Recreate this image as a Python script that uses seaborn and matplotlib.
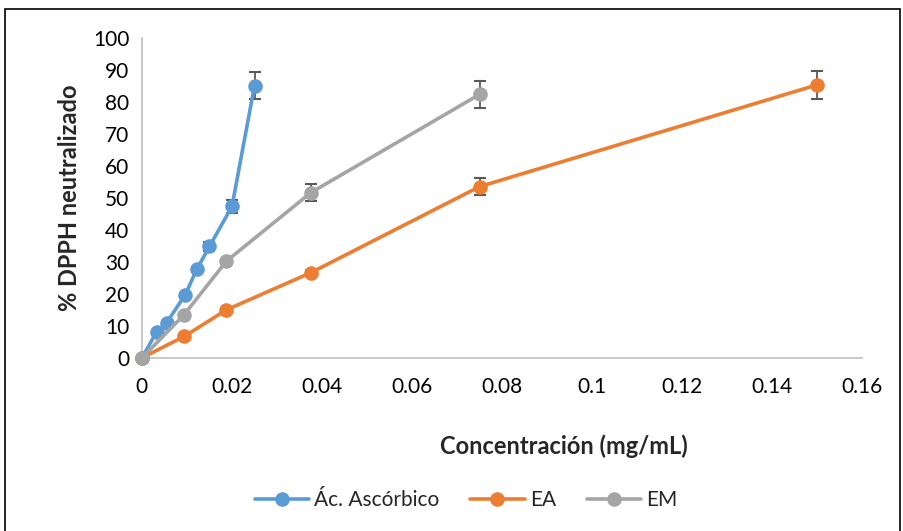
import matplotlib.pyplot as plt
import matplotlib.patches as patches
import seaborn as sns
import pandas as pd

# Ácido ascórbico
aa_conc = [0, 0.0033, 0.0055, 0.0096, 0.0122, 0.015, 0.02, 0.025]
aa_dpph = [0, 8.2, 11.0, 19.7, 27.7, 34.8, 47.3, 85.0]
aa_err = [0, 0.3, 0.3, 0.3, 0.5, 1.5, 2.1, 4.3]

# EA
ea_conc = [0, 0.009375, 0.01875, 0.0375, 0.075, 0.15]
ea_dpph = [0, 6.7, 15.0, 26.6, 53.5, 85.3]
ea_err = [0, 0.3, 0.5, 0.8, 2.7, 4.3]

# EM
em_conc = [0, 0.009375, 0.01875, 0.0375, 0.075]
em_dpph = [0, 13.5, 30.2, 51.6, 82.3]
em_err = [0, 0.5, 0.8, 2.6, 4.2]

series_names = ["Ác. Ascórbico", "EA", "EM"]
colors = ["#5B9BD5", "#ED7D31", "#A5A5A5"]

sns.set_theme(style="white")
plt.rcParams['font.family'] = ['Lato', 'DejaVu Sans']

df = pd.concat([
    pd.DataFrame({"conc": aa_conc, "dpph": aa_dpph, "err": aa_err, "serie": series_names[0]}),
    pd.DataFrame({"conc": ea_conc, "dpph": ea_dpph, "err": ea_err, "serie": series_names[1]}),
    pd.DataFrame({"conc": em_conc, "dpph": em_dpph, "err": em_err, "serie": series_names[2]}),
], ignore_index=True)

fig = plt.figure(figsize=(9.04, 5.31), dpi=100)
ax = fig.add_axes([0.157, 0.326, 0.797, 0.603])

# error bars behind the markers
for name in series_names:
    sub = df[df["serie"] == name]
    ax.errorbar(sub["conc"], sub["dpph"], yerr=sub["err"], fmt="none",
                ecolor="#595959", elinewidth=1.3, capsize=4.6, capthick=1.5, zorder=1)

sns.lineplot(data=df, x="conc", y="dpph", hue="serie", hue_order=series_names,
             palette=colors, marker="o", markersize=10.5, markeredgewidth=0,
             linewidth=2.6, sort=False, estimator=None, ax=ax, zorder=3)

for line in ax.get_lines():
    line.set_clip_on(False)

ax.set_xlim(0, 0.16)
ax.set_ylim(0, 100)
ax.set_xticks([0, 0.02, 0.04, 0.06, 0.08, 0.1, 0.12, 0.14, 0.16])
ax.set_xticklabels(["0", "0.02", "0.04", "0.06", "0.08", "0.1", "0.12", "0.14", "0.16"])
ax.set_yticks(range(0, 101, 10))
ax.tick_params(axis="both", labelsize=15, colors="black", length=0)
ax.tick_params(axis="x", pad=14)
ax.tick_params(axis="y", pad=9)

for side in ["top", "right"]:
    ax.spines[side].set_visible(False)
for side in ["left", "bottom"]:
    ax.spines[side].set_color("#BFBFBF")
    ax.spines[side].set_linewidth(1.2)

ax.set_xlabel("Concentración (mg/mL)", fontsize=17, fontweight="bold")
ax.xaxis.set_label_coords(0.586, -0.24)
ax.set_ylabel("% DPPH neutralizado", fontsize=17, fontweight="bold", labelpad=9)

handles, labels = ax.get_legend_handles_labels()
ax.legend(handles, labels, loc="center", bbox_to_anchor=(0.45, -0.445), ncol=3,
          frameon=False, fontsize=15, handlelength=2.6, columnspacing=1.5, handletextpad=0.25)

fig.patches.append(patches.Rectangle((0.006, -0.01), 0.99, 0.993, transform=fig.transFigure,
                                     fill=False, edgecolor="black", linewidth=1.2))

plt.savefig("out.png", dpi=100)
plt.close()
